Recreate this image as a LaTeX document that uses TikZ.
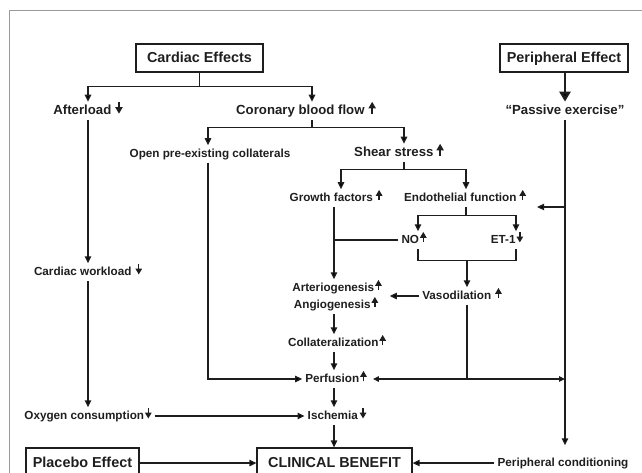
\documentclass[tikz,border=0pt]{standalone}
\usepackage{fontspec}
\setmainfont{Liberation Sans}
\usetikzlibrary{arrows.meta,calc}
\definecolor{ink}{HTML}{1E1E1E}
\definecolor{framec}{HTML}{9A9A9A}
\newcommand\upar{\tikz[baseline=-0.05em,x=1cm,y=1cm]\draw[ink,line width=0.11em,-{Triangle[width=0.55em,length=0.5em]}] (0,0) -- (0,0.9em);}
\newcommand\dnar{\tikz[baseline=-0.05em,x=1cm,y=1cm]\draw[ink,line width=0.11em,-{Triangle[width=0.55em,length=0.5em]}] (0,0.9em) -- (0,0);}
\begin{document}
\begin{tikzpicture}[x=1pt,y=-1pt,
  ln/.style={draw=ink,line width=1.3pt},
  arr/.style={ln,-{Triangle[width=6.5pt,length=7pt]}},
  darr/.style={ln,{Triangle[width=5.5pt,length=6pt]}-{Triangle[width=5.5pt,length=6pt]}},
  big/.style={font=\fontsize{14.4}{17}\selectfont\bfseries, text=ink, text height=10.4pt, text depth=0.6pt},
  med/.style={font=\fontsize{13.2}{15}\selectfont\bfseries, text=ink, inner sep=3pt, text height=9.5pt, text depth=2.8pt},
  sml/.style={font=\fontsize{11.7}{14}\selectfont\bfseries, text=ink, inner sep=3pt, text height=8.6pt, text depth=2.5pt},
  box/.style={big, draw=ink, line width=1.3pt, inner sep=0pt, minimum height=28pt},
]
\useasboundingbox (0,0) rectangle (642,473);
\draw[framec,line width=1.3pt] (9.5,490) -- (9.5,10.5) -- (660,10.5);

% nodes
\node[box,minimum width=127pt] (cardiac) at (199.5,58) {Cardiac Effects};
\node[box,minimum width=128pt] (periph) at (564,58) {Peripheral Effect};
\node[med] (afterload) at (88,111) {Afterload\kern4pt\dnar};
\node[med] (coronary) at (306,111) {Coronary blood flow\kern4pt\upar};
\node[med] (passive) at (565,111) {“Passive exercise”};
\node[sml] (opencoll) at (210,154) {Open pre-existing collaterals};
\node[med] (shear) at (399,153) {Shear stress\kern3pt\upar};
\node[sml] (growth) at (336,198) {Growth factors\kern3pt\upar};
\node[sml] (endo) at (465,198) {Endothelial function\kern3pt\upar};
\node[sml] (no) at (414,240) {NO\kern1pt\upar};
\node[sml] (et1) at (507,240) {ET-1\kern1pt\dnar};
\node[sml] (vaso) at (462,296) {Vasodilation\kern4pt\upar};
\node[sml] (arterio) at (337,288) {Arteriogenesis\kern1pt\upar};
\node[sml] (angio) at (336,305) {Angiogenesis\kern1pt\upar};
\node[sml] (collat) at (337,343) {Collateralization\kern1pt\upar};
\node[sml] (perf) at (336,379) {Perfusion\kern1pt\upar};
\node[sml] (isch) at (337,416) {Ischemia\kern2pt\dnar};
\node[sml] (workload) at (88,272) {Cardiac workload\kern4pt\dnar};
\node[sml] (oxygen) at (88,416) {Oxygen consumption\kern1pt\dnar};
\node[box,minimum width=155pt,minimum height=30pt] (clinical) at (334.5,463) {CLINICAL BENEFIT};
\node[box,minimum width=113pt,minimum height=30pt] (placebo) at (82.5,463) {Placebo Effect};
\node[sml] (pcond) at (563,463) {Peripheral conditioning};

% cardiac branch
\draw[ln] (cardiac.south) -- ++(0,14) coordinate (cj1);
\draw[arr] (cj1) -| (afterload.north);
\draw[arr] (cj1) -| ([xshift=6pt]coronary.north);
\draw[ln,line width=2.6pt,-{Triangle[width=11pt,length=10pt]}] (periph.south -| passive.north) -- (passive.north);

\draw[arr] (afterload.south) -- (workload.north);
\draw[arr] (workload.south) -- (oxygen.north);
\draw[arr] (oxygen.east) -- (isch.west);

% coronary
\draw[ln] ([xshift=6pt]coronary.south) -- ++(0,7) coordinate (cj2);
\draw[arr] (cj2) -| ([xshift=-2pt]opencoll.north);
\draw[arr] (cj2) -| ([xshift=5pt]shear.north);
\draw[arr] ([xshift=-2pt]opencoll.south) |- (perf.west);

% shear
\draw[ln] ([xshift=5pt]shear.south) -- ++(0,7) coordinate (cj3);
\draw[arr] (cj3) -| ([xshift=5pt]growth.north);
\draw[arr] (cj3) -| ([xshift=1pt]endo.north);

% endothelial
\draw[ln] ([xshift=1pt]endo.south) -- ++(0,9) coordinate (cj4);
\draw[arr] (cj4) -| ([xshift=4pt]no.north);
\draw[arr] (cj4) -| ([xshift=9pt]et1.north);

\coordinate (pin) at (passive.south |- 0,207);
\coordinate (pend) at ([xshift=8pt]endo.east);
\draw[arr] (pin) -- (pin -| pend);

% NO / ET-1 join
\coordinate (nob) at ([xshift=4pt]no.south);
\coordinate (etb) at ([xshift=9pt]et1.south);
\draw[ln] (nob) -- ++(0,12) coordinate (nb1) -- (nb1 -| etb) coordinate (nb2) -- (etb);
\coordinate (nbm) at ($(nb1)!0.5!(nb2)$);
\draw[arr] (nbm) -- (nbm |- vaso.north);

\coordinate (arre) at ([xshift=5pt]arterio.east);
\draw[arr] (vaso.west) -- (vaso.west -| arre);

% central column
\coordinate (gx) at ([xshift=-2pt]growth.south);
\draw[arr] (gx) -- (gx |- arterio.north);
\draw[ln] (no.west) -- (no.west -| gx);
\draw[arr] (angio.south -| gx) -- (collat.north -| gx);
\draw[arr] (collat.south -| gx) -- (perf.north -| gx);
\draw[arr] (perf.south -| gx) -- (isch.north -| gx);
\draw[arr] (isch.south -| gx) -- (clinical.north -| gx);

% perfusion line
\coordinate (pr) at (passive.south |- perf.east);
\draw[darr] ([xshift=3pt]perf.east) -- (pr);
\coordinate (vb) at (nbm |- vaso.south);
\draw[ln] (vb) -- (vb |- perf.east);

% passive down
\coordinate (pcn) at ([yshift=9pt]pcond.north);
\draw[arr] (passive.south) -- (passive.south |- pcn);
\draw[arr] (pcond.west) -- (clinical.east);
\draw[arr] (placebo.east) -- (clinical.west);
\end{tikzpicture}
\end{document}
